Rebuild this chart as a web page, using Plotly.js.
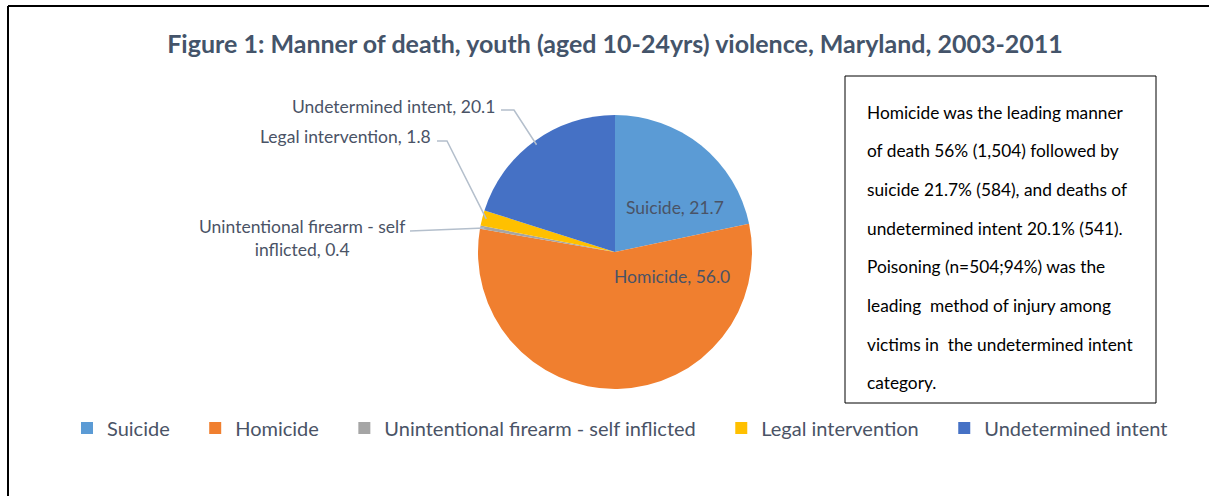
<!DOCTYPE html>
<html>
<head>
<meta charset="utf-8">
<script src="https://cdn.plot.ly/plotly-3.0.1.min.js"></script>
<style>html,body{margin:0;padding:0;background:#fff;}#chart{width:1209px;height:496px;}</style>
</head>
<body>
<div id="chart"></div>
<script>
// ---- data ----
var categories = ["Suicide", "Homicide", "Unintentional firearm - self inflicted", "Legal intervention", "Undetermined intent"];
var percents = [21.7, 56.0, 0.4, 1.8, 20.1];
var sliceColors = ["#5B9BD5", "#F07F2F", "#A5A5A5", "#FFC000", "#4571C5"];
var chartTitle = "Figure 1: Manner of death, youth (aged 10-24yrs) violence, Maryland, 2003-2011";
var noteLines = [
  "Homicide was the leading manner",
  "of death 56% (1,504) followed by",
  "suicide 21.7% (584), and deaths of",
  "undetermined intent 20.1% (541).",
  "Poisoning (n=504;94%) was the",
  "leading  method of injury among",
  "victims in  the undetermined intent",
  "category."
];

// ---- layout helpers (pixel -> paper, margins are zero) ----
var W = 1209, H = 496;
function px(x){ return x / W; }
function py(y){ return 1 - y / H; }

var cx = 615, cy = 252, R = 137;
var labelColor = "#4A5366";
var fontFam = "Lato, 'Open Sans', sans-serif";
var legendSize = 20;

// label placement (layout only)
var labelPlace = [
  {x: 675, y: 207, anchor: "center"},
  {x: 672, y: 276, anchor: "center"},
  {x: 302, y: 238, anchor: "center", lineFrom: [410, 231]},
  {x: 433, y: 136, anchor: "right", lineFrom: [437, 141], elbow: [447, 141]},
  {x: 497, y: 106, anchor: "right", lineFrom: [501, 110], elbow: [514, 110]}
];
var twoLine = {2: "Unintentional firearm - self<br>inflicted"};

var total = percents.reduce(function(a,b){return a+b;}, 0);
var annotations = [], shapes = [];
var cum = 0;
percents.forEach(function(v, i){
  var mid = (cum + v/2) / total * 2 * Math.PI; cum += v;
  var tipX = cx + R * 0.97 * Math.sin(mid), tipY = cy - R * 0.97 * Math.cos(mid);
  var p = labelPlace[i];
  var name = twoLine[i] || categories[i];
  annotations.push({
    xref: "paper", yref: "paper", x: px(p.x), y: py(p.y),
    xanchor: p.anchor, yanchor: "middle", align: "center", showarrow: false,
    text: name + ", " + v.toFixed(1),
    font: {family: fontFam, size: 17.5, color: labelColor}
  });
  if (p.lineFrom) {
    var d = "M" + px(p.lineFrom[0]) + "," + py(p.lineFrom[1]);
    if (p.elbow) d += " L" + px(p.elbow[0]) + "," + py(p.elbow[1]);
    d += " L" + px(tipX) + "," + py(tipY);
    shapes.push({type: "path", xref: "paper", yref: "paper", path: d,
      line: {color: "#B4BFCC", width: 1.5}});
  }
});

// note box
shapes.push({type: "rect", xref: "paper", yref: "paper",
  x0: px(845), x1: px(1156), y0: py(403), y1: py(76),
  line: {color: "#000", width: 1}, fillcolor: "rgba(0,0,0,0)"});
noteLines.forEach(function(t, i){
  annotations.push({xref: "paper", yref: "paper", x: px(865), y: py(112 + i * 38.7),
    xanchor: "left", yanchor: "middle", showarrow: false, text: t,
    font: {family: fontFam, size: 17.3, color: "#000"}});
});
// outer frame (left and top edges)
shapes.push({type: "line", xref: "paper", yref: "paper", x0: px(8), x1: px(8), y0: py(6), y1: 0, line: {color: "#000", width: 2}});
shapes.push({type: "line", xref: "paper", yref: "paper", x0: px(8), x1: 1, y0: py(6), y1: py(6), line: {color: "#000", width: 2}});

// legend entries: extra trailing gap (non-breaking spaces) to match the wide spacing between items
var ctx = document.createElement("canvas").getContext("2d");
ctx.font = legendSize + "px Lato";
var nbspW = ctx.measureText("\u00a0").width || 5;
var nPad = Math.round(19 / nbspW);
var legendLabels = categories.map(function(c, i){
  return i < categories.length - 1 ? c + "\u00a0".repeat(nPad) : c;
});

var trace = {
  type: "pie",
  labels: legendLabels,
  values: percents,
  sort: false,
  direction: "clockwise",
  rotation: 0,
  textinfo: "none",
  hoverinfo: "label+value",
  marker: {colors: sliceColors, line: {width: 0}},
  domain: {x: [px(cx - R), px(cx + R)], y: [py(cy + R), py(cy - R)]}
};

var layout = {
  width: W, height: H,
  margin: {l: 0, r: 0, t: 0, b: 0},
  paper_bgcolor: "#fff",
  title: {text: "<b>" + chartTitle + "</b>", x: px(615), xanchor: "center",
    y: py(44), yanchor: "middle", yref: "container",
    font: {family: fontFam, size: 25, color: "#44546A"}},
  showlegend: true,
  legend: {orientation: "h", x: px(67), xanchor: "left", y: py(428), yanchor: "middle",
    font: {family: fontFam, size: legendSize, color: labelColor}, itemclick: false},
  annotations: annotations,
  shapes: shapes
};

Plotly.newPlot("chart", [trace], layout, {displayModeBar: false, staticPlot: true});
</script>
</body>
</html>
